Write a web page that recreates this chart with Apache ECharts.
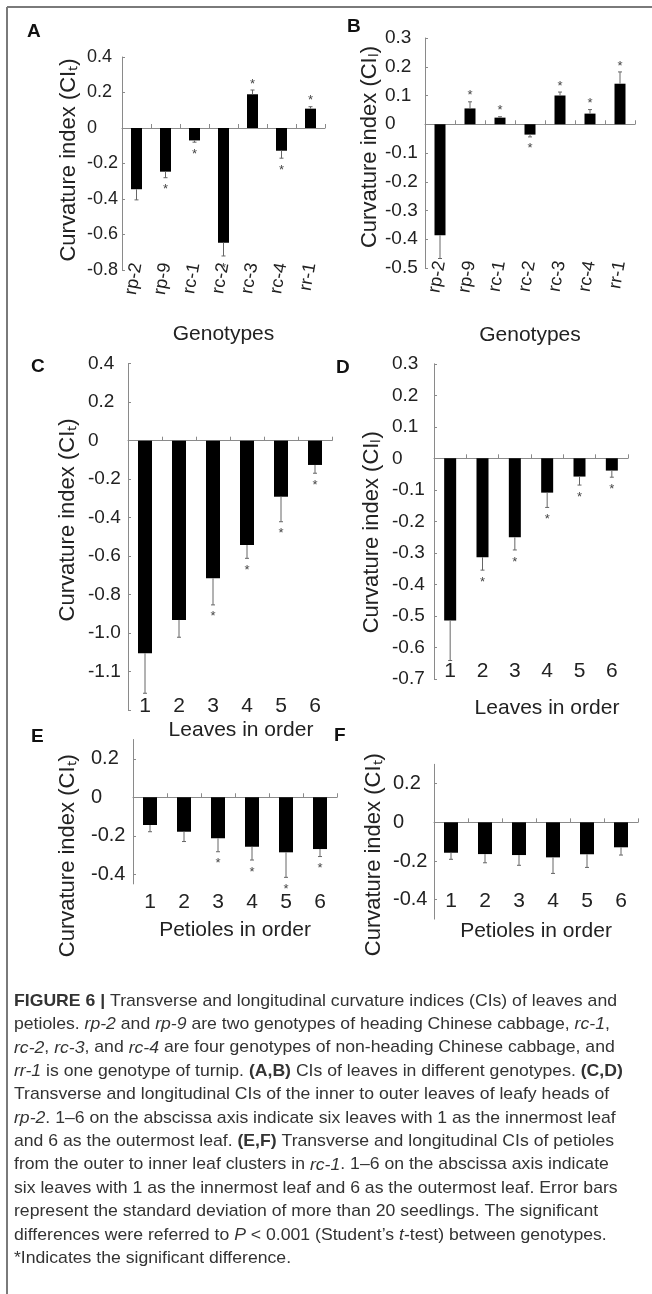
<!DOCTYPE html>
<html><head><meta charset="utf-8">
<script src="https://cdn.jsdelivr.net/npm/echarts@6/dist/echarts.min.js"></script>
<style>html,body{margin:0;padding:0;background:#fff}#c{width:652px;height:1294px}</style>
</head><body><div id="c"></div>
<script>
// ---------- data ----------
const genotypes = ['rp-2','rp-9','rc-1','rc-2','rc-3','rc-4','rr-1'];
const order6 = ['1','2','3','4','5','6'];

const aValues = [-0.345, -0.246, -0.070, -0.646, 0.190, -0.128, 0.109];
const aErrors = [0.060, 0.034, 0.010, 0.075, 0.024, 0.042, 0.011];
const aStars  = ['', '*', '*', '*', '*', '*', '*'];

const bValues = [-0.386, 0.055, 0.023, -0.036, 0.100, 0.037, 0.141];
const bErrors = [0.081, 0.023, 0.003, 0.008, 0.012, 0.014, 0.041];
const bStars  = ['', '*', '*', '*', '*', '*', '*'];

const cValues = [-1.104, -0.931, -0.715, -0.542, -0.291, -0.126];
const cErrors = [0.208, 0.090, 0.138, 0.069, 0.130, 0.043];
const cStars  = ['', '', '*', '*', '*', '*'];

const dValues = [-0.515, -0.314, -0.251, -0.109, -0.058, -0.039];
const dErrors = [0.127, 0.041, 0.040, 0.047, 0.027, 0.021];
const dStars  = ['', '*', '*', '*', '*', '*'];

const eValues = [-0.144, -0.179, -0.213, -0.257, -0.286, -0.269];
const eErrors = [0.035, 0.051, 0.070, 0.069, 0.130, 0.039];
const eStars  = ['', '', '*', '*', '*', '*'];

const fValues = [-0.157, -0.164, -0.169, -0.181, -0.165, -0.129];
const fErrors = [0.034, 0.045, 0.053, 0.083, 0.068, 0.040];
const fStars  = ['', '', '', '', '', ''];

const aTicks = [0.4, 0.2, 0, -0.2, -0.4, -0.6, -0.8];
const aTickLabels = ['0.4', '0.2', '0', '-0.2', '-0.4', '-0.6', '-0.8'];
const bTicks = [0.3, 0.2, 0.1, 0, -0.1, -0.2, -0.3, -0.4, -0.5];
const bTickLabels = ['0.3', '0.2', '0.1', '0', '-0.1', '-0.2', '-0.3', '-0.4', '-0.5'];
const cTicks = [0.4, 0.2, 0, -0.2, -0.4, -0.6, -0.8, -1.0, -1.2, -1.4];
const cTickLabels = ['0.4', '0.2', '0', '-0.2', '-0.4', '-0.6', '-0.8', '-1.0', '-1.1', ''];
const dTicks = [0.3, 0.2, 0.1, 0, -0.1, -0.2, -0.3, -0.4, -0.5, -0.6, -0.7];
const dTickLabels = ['0.3', '0.2', '0.1', '0', '-0.1', '-0.2', '-0.3', '-0.4', '-0.5', '-0.6', '-0.7'];
const eTicks = [0.2, 0, -0.2, -0.4];
const eTickLabels = ['0.2', '0', '-0.2', '-0.4'];
const fTicks = [0.2, 0, -0.2, -0.4];
const fTickLabels = ['0.2', '0', '-0.2', '-0.4'];

const captionLines = [
  '{b|FIGURE 6 |} Transverse and longitudinal curvature indices (CIs) of leaves and',
  'petioles. {i|rp-2} and {i|rp-9} are two genotypes of heading Chinese cabbage, {i|rc-1},',
  '{i|rc-2}, {i|rc-3}, and {i|rc-4} are four genotypes of non-heading Chinese cabbage, and',
  '{i|rr-1} is one genotype of turnip. {b|(A,B)} CIs of leaves in different genotypes. {b|(C,D)}',
  'Transverse and longitudinal CIs of the inner to outer leaves of leafy heads of',
  '{i|rp-2}. 1\u20136 on the abscissa axis indicate six leaves with 1 as the innermost leaf',
  'and 6 as the outermost leaf. {b|(E,F)} Transverse and longitudinal CIs of petioles',
  'from the outer to inner leaf clusters in {i|rc-1}. 1\u20136 on the abscissa axis indicate',
  'six leaves with 1 as the innermost leaf and 6 as the outermost leaf. Error bars',
  'represent the standard deviation of more than 20 seedlings. The significant',
  'differences were referred to {i|P} < 0.001 (Student\u2019s {i|t}-test) between genotypes.',
  '*Indicates the significant difference.'
];

// ---------- layout ----------
const FONT = '"Liberation Sans", Arial, Helvetica, sans-serif';
const AX = '#8a8a8a';
const TXT = '#222';

const panels = [
  {letter:'A', lx:34, ly:32, cats:genotypes, values:aValues, errors:aErrors, stars:aStars, ticks:aTicks, tickLabels:aTickLabels,
   yName:'Curvature index (CI\u209c)', xName:'Genotypes',
   grid:{left:122, top:57, width:203, height:213}, min:-0.8, max:0.4, barWidth:11,
   yLabelMargin:35, yLabelSize:18, yNameGap:42, yNamePad:[0,0,0,7],
   xLabelRotate:80, xLabelMargin:-7, xLabelSize:18, xNameGap:54, xNamePad:[0,0,0,0]},
  {letter:'B', lx:354, ly:27, cats:genotypes, values:bValues, errors:bErrors, stars:bStars, ticks:bTicks, tickLabels:bTickLabels,
   yName:'Curvature index (CI\u2097)', xName:'Genotypes',
   grid:{left:425, top:38, width:210, height:230}, min:-0.5, max:0.3, barWidth:11,
   yLabelMargin:40, yLabelSize:19, yNameGap:42, yNamePad:[0,0,0,12],
   xLabelRotate:80, xLabelMargin:-7, xLabelSize:18, xNameGap:57, xNamePad:[0,0,0,0]},
  {letter:'C', lx:38, ly:367, cats:order6, values:cValues, errors:cErrors, stars:cStars, ticks:cTicks, tickLabels:cTickLabels,
   yName:'Curvature index (CI\u209c)', xName:'Leaves in order',
   grid:{left:128, top:363.7, width:204, height:346.5}, min:-1.4, max:0.4, barWidth:14,
   yLabelMargin:40, yLabelSize:19, yNameGap:49, yNamePad:[0,0,0,34],
   xLabelRotate:0, xLabelMargin:-14, xLabelSize:21, xNameGap:10, xNamePad:[0,0,0,22]},
  {letter:'D', lx:343, ly:368, cats:order6, values:dValues, errors:dErrors, stars:dStars, ticks:dTicks, tickLabels:dTickLabels,
   yName:'Curvature index (CI\u2097)', xName:'Leaves in order',
   grid:{left:434, top:363.8, width:194, height:315}, min:-0.7, max:0.3, barWidth:12,
   yLabelMargin:42, yLabelSize:19, yNameGap:51, yNamePad:[0,22,0,0],
   xLabelRotate:0, xLabelMargin:-18, xLabelSize:21, xNameGap:19, xNamePad:[0,0,0,32]},
  {letter:'E', lx:38, ly:737, cats:order6, values:eValues, errors:eErrors, stars:eStars, ticks:eTicks, tickLabels:eTickLabels,
   yName:'Curvature index (CI\u209c)', xName:'Petioles in order',
   grid:{left:133, top:739.5, width:204, height:144.4}, min:-0.45, max:0.3, barWidth:14,
   yLabelMargin:42, yLabelSize:20, yNameGap:54, yNamePad:[0,88,0,0],
   xLabelRotate:0, xLabelMargin:8, xLabelSize:21, xNameGap:36, xNamePad:[0,0,0,0]},
  {letter:'F', lx:341, ly:736, cats:order6, values:fValues, errors:fErrors, stars:fStars, ticks:fTicks, tickLabels:fTickLabels,
   yName:'Curvature index (CI\u209c)', xName:'Petioles in order',
   grid:{left:434, top:764.3, width:204, height:154.8}, min:-0.5, max:0.3, barWidth:14,
   yLabelMargin:41, yLabelSize:20, yNameGap:49, yNamePad:[0,26,0,0],
   xLabelRotate:0, xLabelMargin:-28, xLabelSize:21, xNameGap:2, xNamePad:[0,0,0,0]}
];

const grids = [], xAxes = [], yAxes = [], series = [], graphics = [];

panels.forEach((p, gi) => {
  grids.push(Object.assign({outerBoundsMode:'none', containLabel:false}, p.grid));
  const labelOf = v => {
    for (let k = 0; k < p.ticks.length; k++) if (Math.abs(p.ticks[k] - v) < 1e-9) return p.tickLabels[k];
    return '';
  };
  yAxes.push({
    type:'value', gridIndex:gi, position:'left', min:p.min, max:p.max,
    axisLine:{show:true, lineStyle:{color:AX, width:1}},
    axisTick:{show:true, inside:true, length:3, customValues:p.ticks, lineStyle:{color:AX}},
    axisLabel:{show:true, customValues:p.ticks, formatter:labelOf, align:'left', margin:p.yLabelMargin,
      fontSize:p.yLabelSize, fontFamily:FONT, color:TXT},
    splitLine:{show:false},
    name:p.yName, nameLocation:'middle', nameRotate:90, nameGap:p.yNameGap,
    nameTextStyle:{fontSize:22, fontFamily:FONT, color:TXT, padding:p.yNamePad}
  });
  // axis at zero: line + boundary ticks
  const zeroIdx = xAxes.length;
  xAxes.push({
    type:'category', gridIndex:gi, data:p.cats, position:'top',
    axisLine:{show:true, onZero:true, lineStyle:{color:AX, width:1}},
    axisTick:{show:true, inside:false, length:4, alignWithLabel:false, lineStyle:{color:AX}},
    axisLabel:{show:false}, splitLine:{show:false}
  });
  // axis at bottom: labels + name only
  xAxes.push({
    type:'category', gridIndex:gi, data:p.cats, position:'bottom',
    axisLine:{show:false, onZero:false}, axisTick:{show:false},
    axisLabel:{show:true, interval:0, rotate:p.xLabelRotate, margin:p.xLabelMargin,
      fontSize:p.xLabelSize, fontFamily:FONT, color:TXT},
    splitLine:{show:false},
    name:p.xName, nameLocation:'middle', nameGap:p.xNameGap,
    nameTextStyle:{fontSize:21, fontFamily:FONT, color:TXT, padding:p.xNamePad}
  });
  const yIdx = gi;
  series.push({
    type:'bar', xAxisIndex:zeroIdx, yAxisIndex:yIdx, data:p.values, barWidth:p.barWidth,
    itemStyle:{color:'#000'}, silent:true, animation:false, z:2
  });
  const stars = p.stars;
  series.push({
    type:'custom', xAxisIndex:zeroIdx, yAxisIndex:yIdx, animation:false, silent:true, z:3,
    data:p.values.map((v, i) => [i, v, p.errors[i]]),
    encode:{x:0, y:1},
    renderItem:(params, api) => {
      const i = api.value(0), v = api.value(1), e = api.value(2);
      const end = v >= 0 ? v + e : v - e;
      const p0 = api.coord([i, v]);
      const p1 = api.coord([i, end]);
      const dir = v >= 0 ? -1 : 1;
      const children = [
        {type:'line', shape:{x1:p0[0], y1:p0[1], x2:p1[0], y2:p1[1]}, style:{stroke:'#666', lineWidth:1}},
        {type:'line', shape:{x1:p1[0]-2, y1:p1[1], x2:p1[0]+2, y2:p1[1]}, style:{stroke:'#666', lineWidth:1}}
      ];
      const s = stars[params.dataIndex];
      if (s) {
        children.push({type:'text', x:p1[0], y:p1[1] + dir*9 + 3,
          style:{text:s, fill:'#444', font:'13px ' + FONT, align:'center', verticalAlign:'middle'}});
      }
      return {type:'group', children};
    }
  });
  graphics.push({type:'text', left:p.lx - 7, top:p.ly - 10,
    style:{text:p.letter, font:'bold 19px ' + FONT, fill:'#111'}});
});

// frame lines
graphics.push({type:'line', shape:{x1:7, y1:7, x2:652, y2:7}, style:{stroke:'#7a7a7a', lineWidth:2}});
graphics.push({type:'line', shape:{x1:7, y1:7, x2:7, y2:1294}, style:{stroke:'#7a7a7a', lineWidth:2}});

// caption
const CAP_SIZE = 17;
const capRich = {
  b:{fontWeight:'bold', fontSize:CAP_SIZE, fontFamily:FONT, color:'#333'},
  i:{fontStyle:'italic', fontSize:CAP_SIZE, fontFamily:FONT, color:'#333'}
};
function measureLine(line) {
  const ctx = document.createElement('canvas').getContext('2d');
  let w = 0; const re = /\{(b|i)\|([^}]*)\}/g; let last = 0, m;
  while ((m = re.exec(line))) {
    ctx.font = CAP_SIZE + 'px ' + FONT; w += ctx.measureText(line.slice(last, m.index)).width;
    ctx.font = (m[1] === 'b' ? 'bold ' : 'italic ') + CAP_SIZE + 'px ' + FONT; w += ctx.measureText(m[2]).width;
    last = re.lastIndex;
  }
  ctx.font = CAP_SIZE + 'px ' + FONT; w += ctx.measureText(line.slice(last)).width;
  return w;
}
const capScale = 603 / measureLine(captionLines[0]);
captionLines.forEach((line, k) => {
  graphics.push({type:'text', x:14, y:1001 + k*23.4, scaleX:capScale,
    style:{text:line, font:CAP_SIZE + 'px ' + FONT, fill:'#333', rich:capRich, verticalAlign:'middle', align:'left'}});
});

const chart = echarts.init(document.getElementById('c'), null, {renderer:'canvas'});
chart.setOption({
  animation:false,
  backgroundColor:'#fff',
  grid:grids, xAxis:xAxes, yAxis:yAxes, series:series, graphic:graphics
});
</script>
</body></html>
